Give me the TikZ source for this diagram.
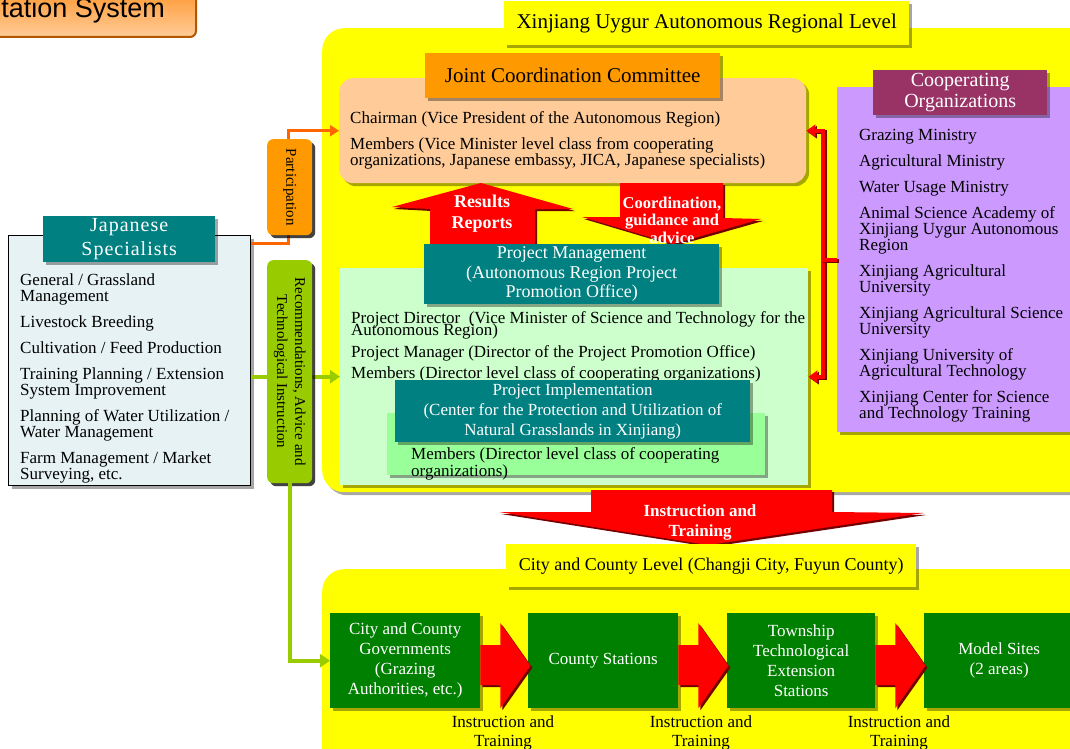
\documentclass[tikz,border=0pt]{standalone}
\usepackage{fontspec}
\setmainfont{Liberation Serif}
\newfontfamily\tabfont{Liberation Sans}
\usetikzlibrary{arrows.meta,shadows,positioning}

\definecolor{regyellow}{HTML}{FFFF00}
\definecolor{peach}{HTML}{FFCC99}
\definecolor{jccorange}{HTML}{FF9900}
\definecolor{tealbox}{HTML}{008080}
\definecolor{pmgreen}{HTML}{CCFFCC}
\definecolor{pigreen}{HTML}{99FF99}
\definecolor{coopviolet}{HTML}{CC99FF}
\definecolor{coopmaroon}{HTML}{993366}
\definecolor{jspblue}{HTML}{E6F2F4}
\definecolor{recgreen}{HTML}{99CC00}
\definecolor{boxgreen}{HTML}{008000}
\definecolor{conorange}{HTML}{FF6600}

\begin{document}
\begin{tikzpicture}[x=1pt,y=-1pt,
    txt/.style={font=\fontsize{17}{16}\selectfont, align=left, inner sep=0pt, anchor=north west},
    shd/.style={drop shadow={shadow xshift=3pt,shadow yshift=-3pt,fill=black,opacity=0.35}},
    shdark/.style={drop shadow={shadow xshift=3pt,shadow yshift=-3pt,fill=black,opacity=0.6}},
    bx/.style={anchor=north west, inner sep=0pt, shd},
    gbox/.style={bx, fill=boxgreen, text=white, align=center, minimum width=150pt, minimum height=95pt, font=\fontsize{17}{20}\selectfont},
    arrowtext/.style={text=white, font=\bfseries\fontsize{17}{18}\selectfont, align=center, inner sep=0pt},
    redblock/.style={fill=red, drop shadow={shadow xshift=2pt,shadow yshift=-2pt,fill=red!45!black,opacity=1}},
    redline/.style={draw=red, line width=4pt, preaction={draw=red!45!black, line width=4pt, transform canvas={xshift=1.5pt,yshift=-1.5pt}}},
    orangeconn/.style={draw=conorange, line width=3pt, -{Triangle[length=9pt,width=11pt]}},
    greenconn/.style={draw=recgreen, line width=4pt, -{Triangle[length=10pt,width=13pt]}},
    tab/.style={anchor=east, inner xsep=31pt, minimum height=52pt, rounded corners=6pt, draw=orange!70!black, line width=2pt, top color=orange!85, bottom color=orange!40, font=\tabfont\fontsize{27}{27}\selectfont},
    trainlabel/.style={align=center, inner sep=0pt, font=\fontsize{17}{19}\selectfont}
  ]
  \useasboundingbox (0,0) rectangle (1070,749);
  \clip (0,0) rectangle (1070,749);

  % Title tab
  \node[tab] (tab) at (197,11) {tation System};

  % Regional level
  \node[bx, fill=regyellow, rounded corners=22pt, minimum width=790pt, minimum height=464pt] (reg) at (322,28) {};
  \node[bx, fill=regyellow, minimum width=405pt, minimum height=44pt, font=\fontsize{21}{21}\selectfont] (reglabel) at (504,1) {Xinjiang Uygur Autonomous Regional Level};

  % Joint Coordination Committee
  \node[bx, fill=peach, rounded corners=14pt, minimum width=467pt, minimum height=105pt] (jcc) at (339,78) {};
  \node[bx, fill=jccorange, minimum width=295pt, minimum height=45pt, font=\fontsize{21}{21}\selectfont] (jcctitle) at (425,53) {Joint Coordination Committee};
  \node[txt] (jcctext) at (350,111) {Chairman (Vice President of the Autonomous Region)\\[10pt]
    Members (Vice Minister level class from cooperating\\
    organizations, Japanese embassy, JICA, Japanese specialists)};

  % Project Management
  \node[bx, fill=pmgreen, minimum width=468pt, minimum height=217pt] (pm) at (340,268) {};
  \fill[redblock] (481,183) -- (573,209) -- (535,209) -- (535,246) -- (430,246) -- (430,209) -- (392,207) -- cycle;
  \node[arrowtext, font=\bfseries\fontsize{18}{21}\selectfont] (results) at (482,214) {Results\\Reports};
  \fill[redblock] (620,183) -- (723,183) -- (723,218) -- (761,219) -- (673,244) -- (582,217) -- (620,217) -- cycle;
  \node[arrowtext, font=\bfseries\fontsize{16.5}{17.5}\selectfont] (coord) at (672,220) {Coordination,\\guidance and\\advice};
  \node[bx, fill=tealbox, text=white, align=center, minimum width=295pt, minimum height=60pt, font=\fontsize{18}{19.5}\selectfont] (pmtitle) at (424,244) {Project Management\\(Autonomous Region Project\\Promotion Office)};
  \node[txt] (pmtext) at (351,311) {Project Director\ \ (Vice Minister of Science and Technology for the\\[-4pt]
    Autonomous Region)\\[6pt]
    Project Manager (Director of the Project Promotion Office)\\[5pt]
    Members (Director level class of cooperating organizations)};

  % Project Implementation
  \node[bx, fill=pigreen, minimum width=378pt, minimum height=62pt] (pi) at (387,413) {};
  \node[bx, fill=tealbox, text=white, align=center, minimum width=355pt, minimum height=62pt, font=\fontsize{17}{20}\selectfont] (pititle) at (395,380) {Project Implementation\\(Center for the Protection and Utilization of\\Natural Grasslands in Xinjiang)};
  \node[txt, font=\fontsize{17}{17}\selectfont] (pitext) at (411,447) {Members (Director level class of cooperating\\organizations)};

  % Cooperating Organizations
  \node[bx, fill=coopviolet, minimum width=240pt, minimum height=345pt] (coop) at (837,87) {};
  \node[bx, fill=coopmaroon, text=white, align=center, minimum width=174pt, minimum height=45pt, font=\fontsize{20}{21}\selectfont] (cooptitle) at (873,70) {Cooperating\\Organizations};
  \node[txt] (cooplist) at (859,129) {Grazing Ministry\\[10pt]
    Agricultural Ministry\\[10pt]
    Water Usage Ministry\\[10pt]
    Animal Science Academy of\\ Xinjiang Uygur Autonomous\\ Region\\[10pt]
    Xinjiang Agricultural\\ University\\[10pt]
    Xinjiang Agricultural Science\\ University\\[10pt]
    Xinjiang University of\\ Agricultural Technology\\[10pt]
    Xinjiang Center for Science\\ and Technology Training};
  \draw[redline, {Triangle[length=9pt,width=12pt]}-{Triangle[length=9pt,width=12pt]}] (jcc.east) -- ++(17,0) |- (pm.east);
  \draw[redline] (coop.west) -- ++(-16,0);

  % Japanese Specialists
  \node[bx, fill=jspblue, draw=black, line width=1.2pt, minimum width=242pt, minimum height=250pt] (jsp) at (8,235) {};
  \node[bx, fill=tealbox, text=white, align=center, minimum width=172pt, minimum height=46pt, font=\fontsize{20}{24}\selectfont\addfontfeature{LetterSpace=5}] (jsptitle) at (43,216) {Japanese\\Specialists};
  \node[txt] (jsplist) at (20,273) {General / Grassland\\ Management\\[10pt]
    Livestock Breeding\\[10pt]
    Cultivation / Feed Production\\[10pt]
    Training Planning / Extension\\ System Improvement\\[10pt]
    Planning of Water Utilization /\\ Water Management\\[10pt]
    Farm Management / Market\\ Surveying, etc.};

  % Participation
  \draw[orangeconn] ([yshift=-8pt]jsp.north east) -- ++(37,0) |- (jcc.west);
  \node[bx, fill=jccorange, rounded corners=6pt, minimum width=45pt, minimum height=96pt, shdark] (part) at (267,139) {};
  \node[rotate=-90, font=\fontsize{15}{15}\selectfont] (parttext) at (part.center) {Participation};

  % Recommendations
  \draw[greenconn] (jsp.east |- pm.west) -- (pm.west);
  \node[bx, fill=recgreen, rounded corners=6pt, minimum width=45pt, minimum height=223pt, shdark] (rec) at (267,260) {};
  \node[rotate=-90, align=center, font=\fontsize{15}{18}\selectfont] (rectext) at (rec.center) {Recommendations, Advice and\\Technological Instruction};

  % Instruction and Training
  \fill[redblock] (591,490) -- (832,490) -- (832,512) -- (924,513) -- (708,545) -- (499,512) -- (591,512) -- cycle;
  \node[arrowtext, font=\bfseries\fontsize{17}{20}\selectfont] (instr) at (700,522) {Instruction and\\Training};

  % City and County level
  \node[bx, fill=regyellow, rounded corners=22pt, minimum width=800pt, minimum height=250pt] (city) at (322,569) {};
  \node[bx, fill=regyellow, minimum width=410pt, minimum height=43pt, font=\fontsize{18}{18}\selectfont] (citylabel) at (506,544) {City and County Level (Changji City, Fuyun County)};
  \node[gbox] (ccg) at (330,613) {City and County\\Governments\\(Grazing\\Authorities, etc.)};
  \node[gbox] (cst) at (528,613) {County Stations};
  \node[gbox, minimum width=148pt] (tte) at (727,613) {Township\\Technological\\Extension\\Stations};
  \node[gbox] (msite) at (924,613) {Model Sites\\(2 areas)};
  \foreach \a/\b in {ccg/cst,cst/tte,tte/msite}
    \fill[redblock] ([yshift=15.5pt]\a.east) -- ++(20,0) -- ++(0,-22) -- ++(30,42.5) -- ++(-30,42.5) -- ++(0,-23) -- ++(-20,0) -- cycle;
  \foreach \x/\n in {503/a,701/b,899/c}
    \node[trainlabel] (train\n) at (\x,733) {Instruction and\\Training};
  \draw[greenconn] (rec.south) |- (ccg.west);
\end{tikzpicture}
\end{document}
